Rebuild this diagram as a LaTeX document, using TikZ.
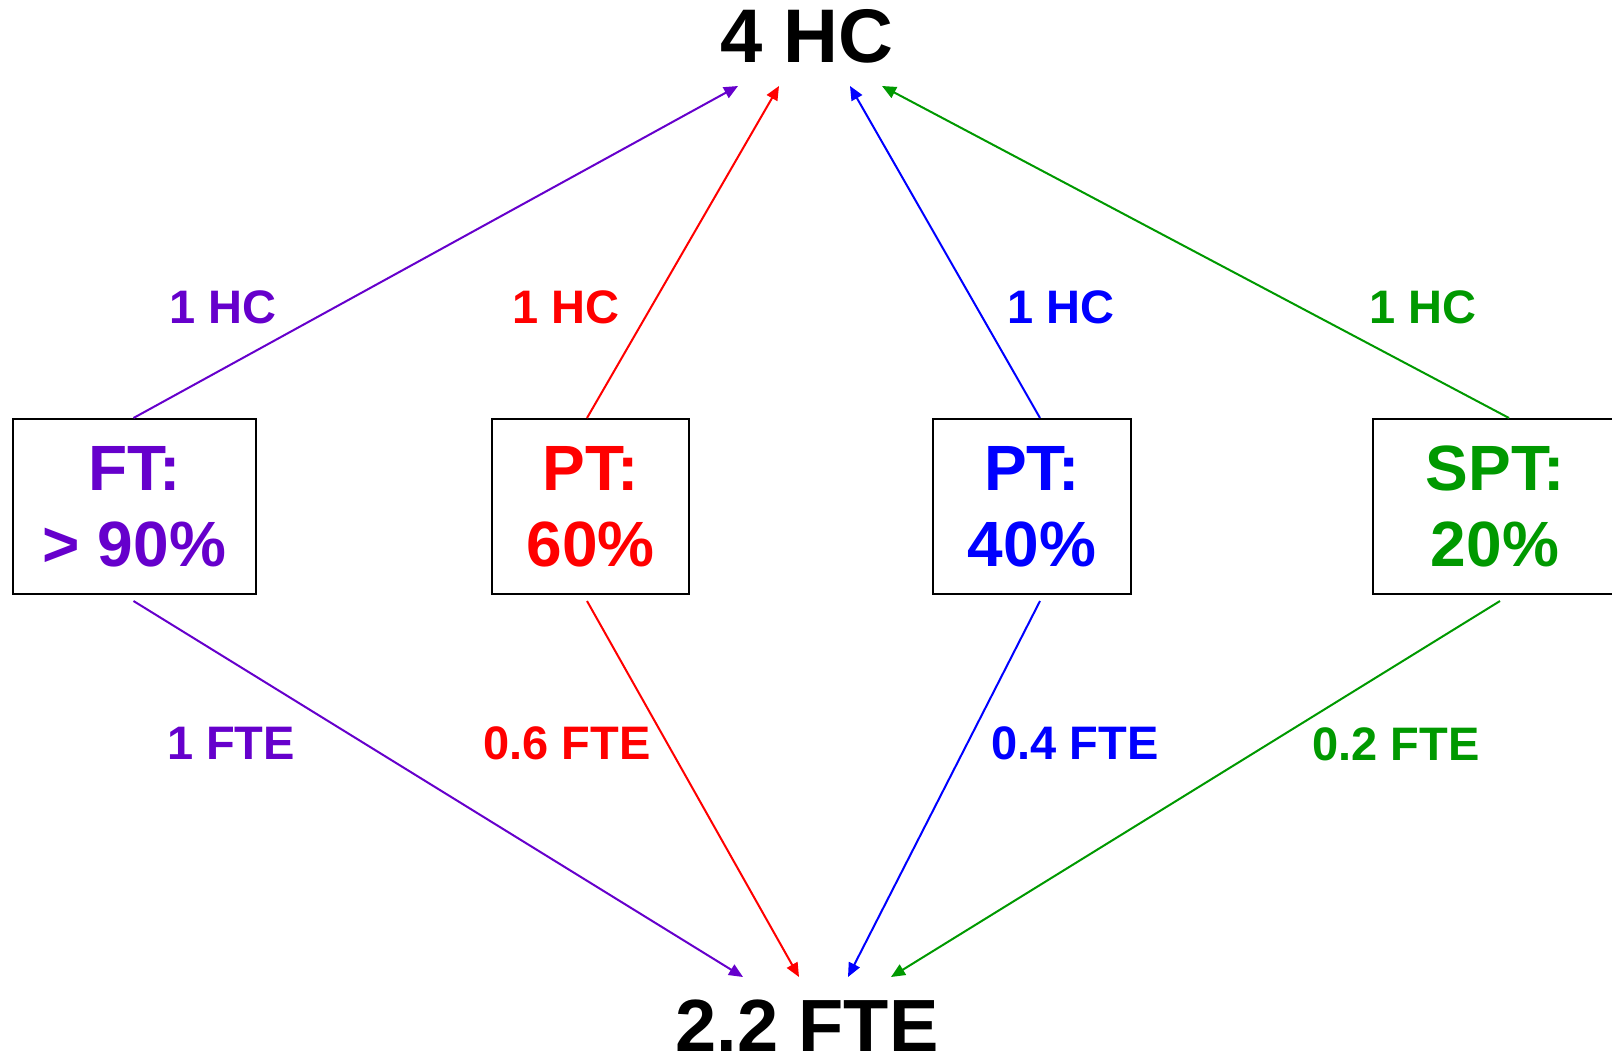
\documentclass[tikz,border=0pt]{standalone}
\usepackage{fontspec}
\setmainfont{Liberation Sans}
\usetikzlibrary{arrows.meta}
\definecolor{cpurple}{HTML}{6600CC}
\definecolor{cred}{HTML}{FF0000}
\definecolor{cblue}{HTML}{0000FF}
\definecolor{cgreen}{HTML}{009900}
\begin{document}
\begin{tikzpicture}[x=1pt,y=-1pt,
  hub/.style={font={\fontsize{76}{76}\selectfont\bfseries}, inner sep=0pt, anchor=base},
  catbox/.style={draw=black, line width=2pt, minimum height=175pt, inner sep=0pt,
    align=center, font={\fontsize{64}{76}\selectfont\bfseries}},
  lbl/.style={font={\fontsize{47}{47}\selectfont\bfseries}, inner sep=0pt, anchor=base},
  conn/.style={line width=2pt, -{Triangle[length=14pt,width=12pt]}}
]
\useasboundingbox (0,0) rectangle (1612,1064);
\clip (0,0) rectangle (1612,1064);
\fill[white] (0,0) rectangle (1612,1064);

\node[hub] (hc) at (807,63) {4 HC};
\node[hub, font={\fontsize{74}{74}\selectfont\bfseries}] (fte) at (807,1051) {2.2 FTE};

\node[catbox, minimum width=243pt, text=cpurple] (ft) at (134.5,506.5) {FT:\\> 90\%};
\node[catbox, minimum width=197pt, text=cred] (pt6) at (590.5,506.5) {PT:\\60\%};
\node[catbox, minimum width=198pt, text=cblue] (pt4) at (1032,506.5) {PT:\\40\%};
\node[catbox, minimum width=244pt, text=cgreen] (spt) at (1495,506.5) {SPT:\\20\%};

% arrow tips
\coordinate (t1) at (738,86);
\coordinate (t2) at (779,86);
\coordinate (t3) at (850,86);
\coordinate (t4) at (882,86);
\coordinate (b1) at (743,977);
\coordinate (b2) at (799,977);
\coordinate (b3) at (848,977);
\coordinate (b4) at (891,977);

\draw[conn, cpurple] ([xshift=-1pt]ft.north) -- (t1);
\draw[conn, cred] ([xshift=-3.5pt]pt6.north) -- (t2);
\draw[conn, cblue] ([xshift=8pt]pt4.north) -- (t3);
\draw[conn, cgreen] ([xshift=14pt]spt.north) -- (t4);

\draw[conn, cpurple] ([xshift=-1pt,yshift=-6pt]ft.south) -- (b1);
\draw[conn, cred] ([xshift=-3.5pt,yshift=-6pt]pt6.south) -- (b2);
\draw[conn, cblue] ([xshift=8pt,yshift=-6pt]pt4.south) -- (b3);
\draw[conn, cgreen] ([xshift=5pt,yshift=-6pt]spt.south) -- (b4);

\node[lbl, text=cpurple] (l1) at (223,324) {1 HC};
\node[lbl, text=cred] (l2) at (566,324) {1 HC};
\node[lbl, text=cblue] (l3) at (1061,324) {1 HC};
\node[lbl, text=cgreen] (l4) at (1423,324) {1 HC};

\node[lbl, text=cpurple] (f1) at (231,759) {1 FTE};
\node[lbl, text=cred] (f2) at (567,759) {0.6 FTE};
\node[lbl, text=cblue] (f3) at (1075,759) {0.4 FTE};
\node[lbl, text=cgreen] (f4) at (1396,760) {0.2 FTE};
\end{tikzpicture}
\end{document}
